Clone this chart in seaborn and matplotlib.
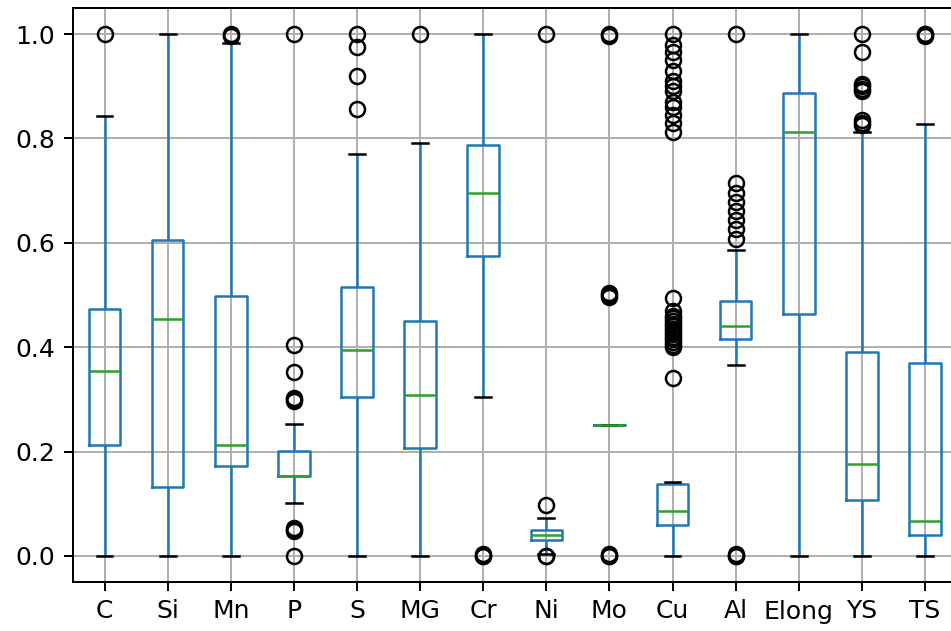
import matplotlib
matplotlib.use("Agg")
import matplotlib.pyplot as plt
import numpy as np
import pandas as pd
import seaborn as sns

# Normalised steel composition / property columns
variables = ["C", "Si", "Mn", "P", "S", "MG", "Cr", "Ni", "Mo", "Cu", "Al", "Elong", "YS", "TS"]

# Five-number summaries per column
q1 = [0.212, 0.132, 0.1725, 0.153, 0.3036, 0.207, 0.5745, 0.0305, 0.25, 0.060, 0.415, 0.4633, 0.1068, 0.0397]
medians = [0.355, 0.454, 0.2135, 0.153, 0.394, 0.3087, 0.696, 0.041, 0.25, 0.0863, 0.440, 0.8127, 0.177, 0.0665]
q3 = [0.474, 0.605, 0.498, 0.2013, 0.5145, 0.450, 0.787, 0.0506, 0.25, 0.1374, 0.488, 0.8875, 0.390, 0.370]
whisker_low = [0.0, 0.0, 0.0, 0.1016, 0.0, 0.0, 0.3036, 0.0205, 0.25, 0.0, 0.3655, 0.0, 0.0, 0.0]
whisker_high = [0.843, 1.0, 0.982, 0.2525, 0.771, 0.7917, 1.0, 0.0736, 0.25, 0.1407, 0.587, 1.0, 0.813, 0.8275]

# Values beyond the whiskers
outliers_low = [
    [], [], [], [0.0, 0.047, 0.050, 0.053], [], [], [0.0, 0.0, 0.003], [0.0, 0.0, 0.003],
    [0.0, 0.0, 0.003], [], [0.0, 0.0, 0.003], [], [], [],
]
outliers_high = [
    [1.0], [], [0.996, 1.0], [0.297, 0.300, 0.303, 0.353, 0.404, 1.0],
    [0.856, 0.919, 0.976, 1.0], [1.0], [], [0.097, 1.0], [0.497, 0.500, 0.503, 0.997, 1.0],
    [0.34, 0.40, 0.405, 0.41, 0.415, 0.42, 0.425, 0.43, 0.435, 0.44, 0.445, 0.45, 0.455,
     0.46, 0.47, 0.494, 0.813, 0.83, 0.845, 0.86, 0.87, 0.89, 0.90, 0.91, 0.93, 0.95,
     0.965, 0.98, 1.0],
    [0.608, 0.626, 0.643, 0.661, 0.679, 0.696, 0.714, 1.0],
    [],
    [0.825, 0.83, 0.835, 0.89, 0.895, 0.90, 0.905, 0.966, 1.0],
    [0.997, 1.0, 1.0],
]


def column_values(lo_out, lo, a, m, b, hi, hi_out):
    """Sorted sample whose quartiles, whisker ends and fliers are the given ones."""
    n_lo, n_hi = len(lo_out), len(hi_out)
    k = max(n_lo, n_hi) + 2
    vals = (list(lo_out) + [lo] + [a] * (k - n_lo) + [m] * k + [b] * k
            + [b] * (k - n_hi - 1) + [hi] + list(hi_out))
    return vals


rows = []
for i, name in enumerate(variables):
    vals = column_values(sorted(outliers_low[i]), whisker_low[i], q1[i], medians[i],
                         q3[i], whisker_high[i], sorted(outliers_high[i]))
    rows.extend((name, v) for v in vals)
df = pd.DataFrame(rows, columns=["variable", "value"])

DPI = 180
fig = plt.figure(figsize=(951 / DPI, 631 / DPI), dpi=DPI)
ax = fig.add_axes([73 / 951, (631 - 582) / 631, (956.5 - 73) / 951, (582 - 8) / 631])

sns.boxplot(
    data=df, x="variable", y="value", order=variables, ax=ax,
    width=0.5, whis=1.5, fill=False, color="C0", linecolor="C0", saturation=1,
    linewidth=1.0, fliersize=6,
    medianprops={"color": "C2", "linewidth": 1.0},
    capprops={"color": "k", "linewidth": 1.0},
    whiskerprops={"color": "C0", "linewidth": 1.0},
    boxprops={"color": "C0", "linewidth": 1.0},
    flierprops={"marker": "o", "markeredgecolor": "k", "markerfacecolor": "none",
                "markersize": 6, "markeredgewidth": 1.0},
)

ax.set_xlim(-0.5, len(variables) - 0.5)
ax.set_ylim(-0.05, 1.05)
ax.set_yticks([0.0, 0.2, 0.4, 0.6, 0.8, 1.0])
ax.set_xlabel("")
ax.set_ylabel("")
ax.set_axisbelow("line")
ax.grid(True, color="#b0b0b0", linewidth=0.8)
for side in ("top", "right", "left", "bottom"):
    ax.spines[side].set_visible(True)
    ax.spines[side].set_color("black")
    ax.spines[side].set_linewidth(0.8)
ax.tick_params(labelsize=10, length=3.5, width=0.8, colors="black")

fig.savefig("out.png", dpi=DPI)
